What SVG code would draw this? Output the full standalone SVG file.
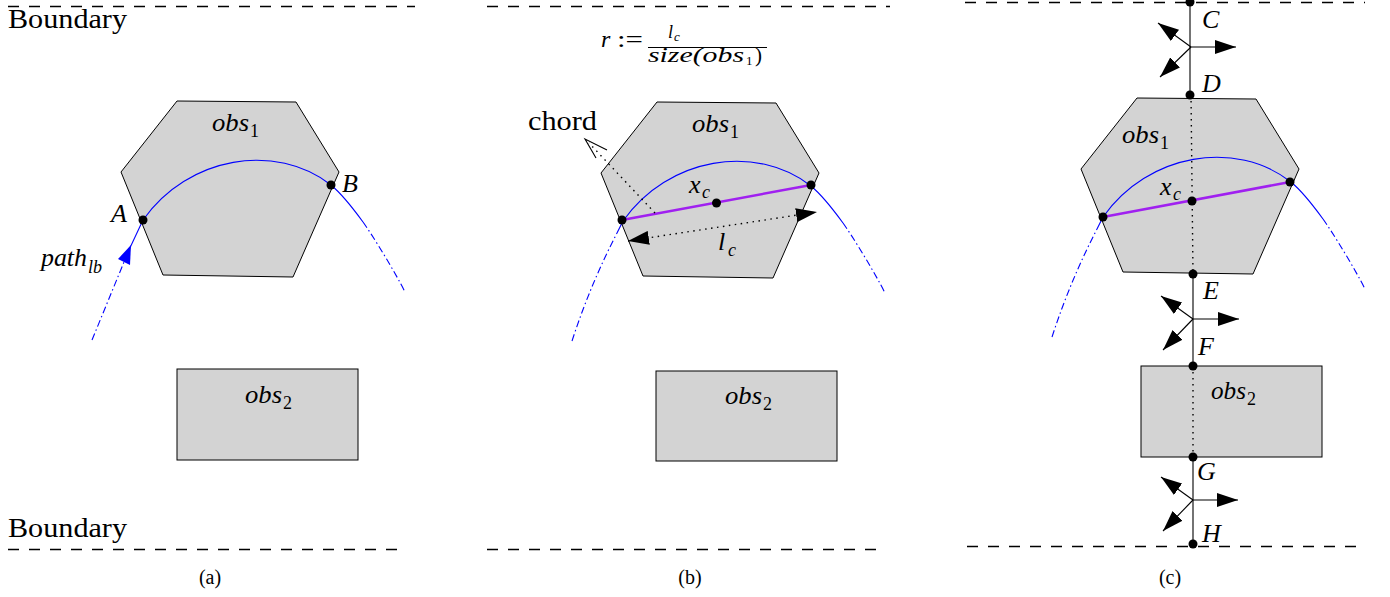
<svg xmlns="http://www.w3.org/2000/svg" width="1390" height="597" viewBox="0 0 1390 597">
<defs>
<style>
.bd{stroke:#000;stroke-width:1.3;stroke-dasharray:11 10;fill:none}
.obs{fill:#d3d3d3;stroke:#000;stroke-width:1}
.pth{fill:none;stroke:#0000ff;stroke-width:1.1}
.dd{stroke-dasharray:7 3 1.5 3}
.chord{stroke:#a020f0;stroke-width:2.5;fill:none}
.dot{fill:#000}
.t{font-family:"Liberation Serif","DejaVu Serif",serif;fill:#000}
.m{font-style:italic;font-size:26px}
.s{font-size:18px;font-style:normal}
.si{font-size:18px;font-style:italic}
.ln{stroke:#000;stroke-width:1.1;fill:none}
.dt{stroke:#000;stroke-width:1.4;stroke-dasharray:1.5 4.5;fill:none}
.ar{stroke:#000;stroke-width:1.1;fill:none;marker-end:url(#ah)}
</style>
<marker id="ah" viewBox="0 0 21 14" refX="21" refY="7" markerWidth="21" markerHeight="14" markerUnits="userSpaceOnUse" orient="auto-start-reverse">
<path d="M0,0 L21,7 L0,14 z" fill="#000"/>
</marker>
<polygon id="hex" points="177,101 296,102 339,172 293,277 163,275 121,172"/>
<path id="arcSolid" d="M143,220 C188,156 276,142 331,185 C343,195 355,211 363,222"/>
<path id="tailR" d="M363,222 C373,236 395,272 405,292"/>
<path id="tailL" d="M92,340 C105,300 120,265 137,232"/>
</defs>

<!-- Panel (a) -->
<g id="panel-a">
<g id="boundary-a-top"><line class="bd" x1="8" y1="6.5" x2="415" y2="6.5"/><text class="t" x="8" y="28" font-size="28" textLength="119" lengthAdjust="spacingAndGlyphs">Boundary</text></g>
<g id="boundary-a-bottom"><line class="bd" x1="8" y1="549.5" x2="405" y2="549.5"/><text class="t" x="8" y="537" font-size="28" textLength="119" lengthAdjust="spacingAndGlyphs">Boundary</text></g>
<g id="obs1-a"><use href="#hex" class="obs"/><text class="t m" x="212" y="131" textLength="37" lengthAdjust="spacingAndGlyphs">obs</text><text class="t s" x="250" y="137">1</text></g>
<g id="obs2-a"><rect class="obs" x="177" y="369" width="181" height="91"/><text class="t m" x="245" y="403" textLength="37" lengthAdjust="spacingAndGlyphs">obs</text><text class="t s" x="283" y="409">2</text></g>
<g id="path-a">
<path class="pth dd" d="M92,340 L124,262"/>
<polygon points="131,245 118,259 130,265" fill="#0000ff"/>
<path class="pth" d="M128,252 L143,220"/>
<use href="#arcSolid" class="pth"/>
<use href="#tailR" class="pth dd"/>
<text class="t m" x="41" y="266" textLength="46" lengthAdjust="spacingAndGlyphs">path</text><text class="t si" x="88" y="273">lb</text>
</g>
<g id="pointA"><circle class="dot" cx="143" cy="220" r="4.5"/><text class="t m" x="111" y="222">A</text></g>
<g id="pointB"><circle class="dot" cx="331" cy="185" r="4.5"/><text class="t m" x="342" y="192">B</text></g>
<text class="t" x="210" y="584" font-size="20" text-anchor="middle">(a)</text>
</g>

<!-- Panel (b) -->
<g id="panel-b">
<g id="boundary-b"><line class="bd" x1="487" y1="6.5" x2="890" y2="6.5"/><line class="bd" x1="487" y1="549.5" x2="885" y2="549.5"/></g>
<g id="formula-b">
<text class="t" x="601" y="47" font-size="24" font-style="italic">r</text>
<text class="t" x="617" y="47" font-size="24" textLength="26" lengthAdjust="spacingAndGlyphs">:=</text>
<text class="t" x="668" y="38" font-size="18" font-style="italic">l</text><text class="t" x="674" y="41" font-size="13" font-style="italic">c</text>
<line class="ln" x1="648" y1="47.5" x2="767" y2="47.5" stroke-width="0.9"/>
<text class="t" x="648" y="62" font-size="21" font-style="italic" textLength="96" lengthAdjust="spacingAndGlyphs">size(obs</text><text class="t" x="746" y="65" font-size="13">1</text><text class="t" x="755" y="62" font-size="21">)</text>
</g>
<g id="obs1-b"><use href="#hex" class="obs" transform="translate(480,1)"/><text class="t m" x="692" y="132" textLength="37" lengthAdjust="spacingAndGlyphs">obs</text><text class="t s" x="730" y="138">1</text></g>
<g id="obs2-b"><rect class="obs" x="656" y="371" width="181" height="90"/><text class="t m" x="725" y="404" textLength="37" lengthAdjust="spacingAndGlyphs">obs</text><text class="t s" x="763" y="410">2</text></g>
<g id="path-b" transform="translate(480,1)">
<use href="#tailL" class="pth dd"/>
<path class="pth" d="M137,232 L143,220"/>
<use href="#arcSolid" class="pth"/>
<use href="#tailR" class="pth dd"/>
</g>
<g id="chord-b">
<line class="chord" x1="622" y1="220" x2="811" y2="185"/>
<circle class="dot" cx="622" cy="220" r="4.5"/>
<circle class="dot" cx="811" cy="185" r="4.5"/>
<circle class="dot" cx="716.5" cy="203" r="4.5"/>
<text class="t m" x="689" y="193">x</text><text class="t si" x="702" y="198">c</text>
</g>
<g id="lc-b">
<line class="dt" x1="628" y1="241" x2="817" y2="212" style="marker-start:url(#ah);marker-end:url(#ah)"/>
<text class="t m" x="718" y="250">l</text><text class="t si" x="728" y="256">c</text>
</g>
<g id="chordlabel-b">
<line class="dt" x1="655" y1="213" x2="589" y2="143"/>
<polyline class="ln" points="607,150 585,139 596,158" stroke-width="1"/>
<text class="t" x="528" y="130" font-size="28" textLength="69" lengthAdjust="spacingAndGlyphs">chord</text>
</g>
<text class="t" x="690" y="584" font-size="20" text-anchor="middle">(b)</text>
</g>

<!-- Panel (c) -->
<g id="panel-c">
<g id="boundary-c"><line class="bd" x1="965" y1="2.5" x2="1365" y2="2.5"/><line class="bd" x1="967" y1="546.5" x2="1365" y2="546.5"/></g>
<g id="obs1-c"><use href="#hex" class="obs" transform="translate(960,-3)"/><text class="t m" x="1122" y="143" textLength="37" lengthAdjust="spacingAndGlyphs">obs</text><text class="t s" x="1160" y="149">1</text></g>
<g id="obs2-c"><rect class="obs" x="1141" y="366" width="181" height="91"/><text class="t m" x="1211" y="399" textLength="35" lengthAdjust="spacingAndGlyphs">obs</text><text class="t s" x="1247" y="405">2</text></g>
<g id="path-c" transform="translate(960,-3)">
<use href="#tailL" class="pth dd"/>
<path class="pth" d="M137,232 L143,220"/>
<use href="#arcSolid" class="pth"/>
<use href="#tailR" class="pth dd"/>
</g>
<g id="connectors-c">
<line class="ln" x1="1190" y1="2" x2="1190" y2="95"/>
<line class="dt" x1="1191" y1="95" x2="1193" y2="274"/>
<line class="ln" x1="1193" y1="274" x2="1193" y2="366"/>
<line class="dt" x1="1193" y1="366" x2="1193" y2="457"/>
<line class="ln" x1="1193" y1="457" x2="1193" y2="544"/>
<line class="ar" x1="1191" y1="47" x2="1236" y2="47"/>
<line class="ar" x1="1191" y1="47" x2="1158" y2="23"/>
<line class="ar" x1="1191" y1="47" x2="1160" y2="77"/>
<line class="ar" x1="1193" y1="319" x2="1239" y2="319"/>
<line class="ar" x1="1193" y1="319" x2="1161" y2="296"/>
<line class="ar" x1="1193" y1="319" x2="1163" y2="350"/>
<line class="ar" x1="1193" y1="500" x2="1238" y2="500"/>
<line class="ar" x1="1193" y1="500" x2="1161" y2="477"/>
<line class="ar" x1="1193" y1="500" x2="1163" y2="531"/>
</g>
<g id="chord-c">
<line class="chord" x1="1103" y1="217" x2="1290" y2="182"/>
<circle class="dot" cx="1103" cy="217" r="4.5"/>
<circle class="dot" cx="1290" cy="182" r="4.5"/>
<circle class="dot" cx="1192" cy="201" r="4.5"/>
<text class="t m" x="1160" y="195">x</text><text class="t si" x="1173" y="200">c</text>
</g>
<g id="pointC"><circle class="dot" cx="1190" cy="2" r="4.5"/><text class="t m" x="1202" y="28">C</text></g>
<g id="pointD"><circle class="dot" cx="1190" cy="95" r="4.5"/><text class="t m" x="1202" y="92">D</text></g>
<g id="pointE"><circle class="dot" cx="1193" cy="274" r="4.5"/><text class="t m" x="1203" y="299">E</text></g>
<g id="pointF"><circle class="dot" cx="1193" cy="366" r="4.5"/><text class="t m" x="1198" y="355">F</text></g>
<g id="pointG"><circle class="dot" cx="1193" cy="457" r="4.5"/><text class="t m" x="1197" y="480">G</text></g>
<g id="pointH"><circle class="dot" cx="1193" cy="544" r="4.5"/><text class="t m" x="1202" y="542">H</text></g>
<text class="t" x="1170" y="584" font-size="20" text-anchor="middle">(c)</text>
</g>
</svg>
